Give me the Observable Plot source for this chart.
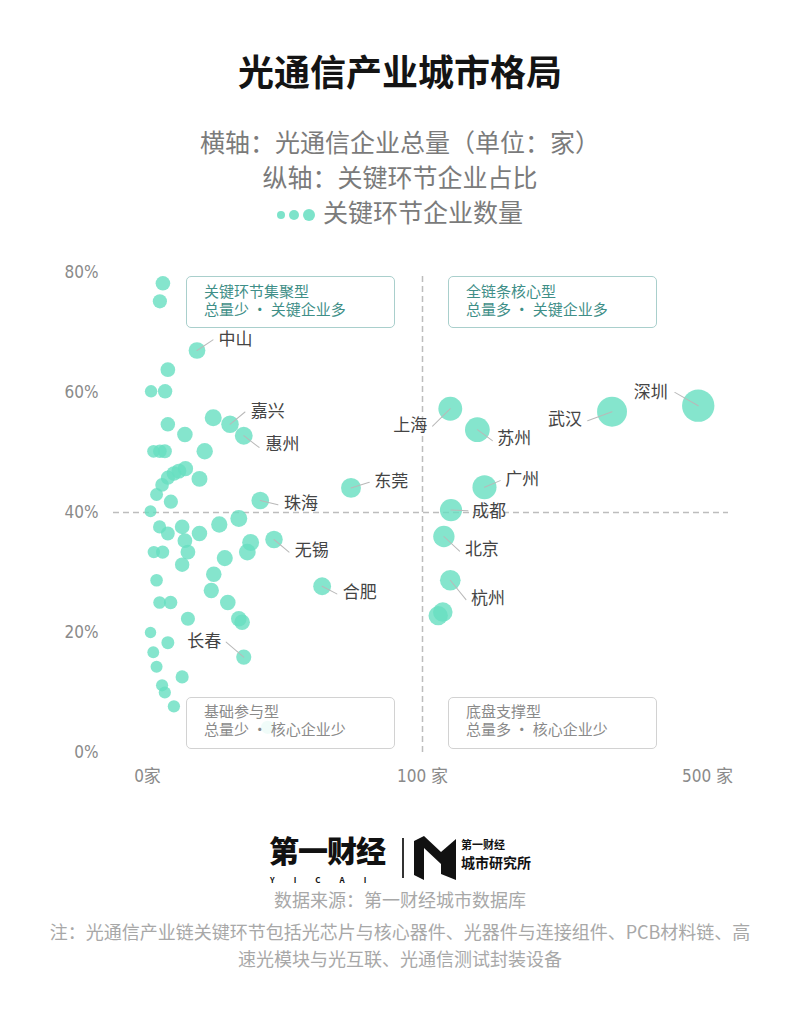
<!DOCTYPE html>
<html><head><meta charset="utf-8">
<script src="https://cdn.jsdelivr.net/npm/d3@7"></script>
<script src="https://cdn.jsdelivr.net/npm/@observablehq/plot@0.6"></script>
<style>
body{margin:0;background:#fff;font-family:"Noto Sans CJK SC","Noto Sans",sans-serif;}
#page{position:relative;width:800px;height:1020px;overflow:hidden;background:#fff;}
.abs{position:absolute;}
.center{left:0;width:800px;text-align:center;}
#title{top:50px;font-size:36px;line-height:40px;font-weight:700;color:#141414;}
.sub{font-size:25px;line-height:35px;color:#7b7b7b;}
.leg{display:inline-block;border-radius:50%;background:#66DEC1;opacity:.85;vertical-align:middle;margin-right:4px;}
#chart{top:250px;left:0;}
.qbox{position:absolute;width:209px;height:52px;box-sizing:border-box;border:1.5px solid;border-radius:5px;background:rgba(255,255,255,0.88);padding:5px 0 0 17px;font-size:15px;line-height:18px;white-space:pre;}
.qtop{border-color:#a9cfcc;color:#3f8f88;}
.qbot{border-color:#d2d2d2;color:#8a8a8a;padding-top:4px;}
.foot{font-size:18px;line-height:27px;color:#a8a8a8;}
</style></head>
<body><div id="page">
<div id="title" class="abs center">光通信产业城市格局</div>
<div class="abs center sub" style="top:124px">横轴：光通信企业总量（单位：家）</div>
<div class="abs center sub" style="top:159px">纵轴：关键环节企业占比</div>
<div class="abs center sub" style="top:194px"><span class="leg" style="width:8px;height:8px"></span><span class="leg" style="width:10px;height:10px"></span><span class="leg" style="width:12px;height:12px;margin-right:8px"></span>关键环节企业数量</div>
<div id="chart" class="abs"></div>
<div id="quads"></div>
<!-- footer logo -->
<div class="abs" style="left:269px;top:834px;font-size:30px;line-height:30px;font-weight:900;color:#111;letter-spacing:-1px;">第一财经</div>
<div class="abs" style="left:270px;top:875px;font-size:8px;line-height:9px;font-weight:700;color:#111;letter-spacing:19px;">YICAI</div>
<div class="abs" style="left:402px;top:838px;width:1.5px;height:40px;background:#333;"></div>
<svg class="abs" style="left:414px;top:836px" width="42" height="44" viewBox="0 0 42 44">
<polygon points="0,5 10,0 10,44 0,39" fill="#111"/>
<polygon points="10,0 27,16 27,28 10,12" fill="#111"/>
<polygon points="27,16 42,3 42,44 27,38" fill="#111"/>
</svg>
<div class="abs" style="left:461px;top:838px;font-size:11px;line-height:13px;font-weight:700;color:#111;">第一财经</div>
<div class="abs" style="left:461px;top:854px;font-size:14px;line-height:17px;font-weight:700;color:#111;">城市研究所</div>
<div class="abs center foot" style="top:886px">数据来源：第一财经城市数据库</div>
<div class="abs center foot" style="top:918px">注：光通信产业链关键环节包括光芯片与核心器件、光器件与连接组件、PCB材料链、高<br>速光模块与光互联、光通信测试封装设备</div>
</div>
<script>
// ---- data ----
// labelled cities first (same order as the value arrays); remaining points are unlabelled cities
const cityNames = ["深圳","武汉","广州","苏州","上海","成都","杭州","北京","","",
  "东莞","合肥","无锡","珠海","惠州","嘉兴","中山","长春"];
const totalCount = [487,366,187,177,139,140,139,130,128.5,122,
  74,63.5,46,41,35,30,18,35,
  5.6,4.5,7.4,1.3,6.4,23.9,7.4,13.6,20.8,2.2,4.5,6.3,13.8,11.4,9.6,7.4,5.3,18.9,3.3,8.5,1.1,4.4,7.4,12.6,18.9,26.1,33.2,13.6,2.3,5.5,14.7,12.6,28.1,37.5,36.3,24.1,23.2,29.2,33.2,34.4,3.3,4.4,8.4,14.7,1.1,7.4,2.1,3.3,12.6,5.3,6.3,9.6,43.7];
const keyShare = [57.8,56.8,44.2,53.8,57.3,40.4,28.7,36.0,23.4,22.8,
  44.1,27.7,35.5,42.0,52.8,54.7,67.0,15.9,
  78.2,75.2,63.8,60.2,60.2,55.8,54.7,53.0,50.2,50.2,50.2,50.2,47.3,46.9,46.5,45.8,44.6,45.6,43.0,41.8,40.2,37.6,36.5,37.6,36.5,38.0,39.0,35.3,33.4,33.4,33.4,31.3,32.4,35.0,33.4,29.7,27.0,25.0,22.3,21.7,28.7,25.0,25.0,22.3,20.0,18.3,16.7,14.3,12.6,11.2,10.0,7.7,4.2];
const keyCount = [281,208,83,95,80,57,40,47,30,28,
  33,18,16,17,18,16,12,6,
  4.4,3.4,4.7,0.8,3.9,13.3,4.0,7.2,10.4,1.1,2.3,3.2,6.5,5.3,4.5,3.4,2.4,8.6,1.4,3.6,0.4,1.7,2.7,4.7,6.9,9.9,12.9,4.8,0.8,1.8,4.9,3.9,9.1,13.1,12.1,7.2,6.3,7.3,7.4,7.5,0.9,1.1,2.1,3.3,0.2,1.4,0.4,0.5,1.6,0.6,0.6,0.7,1.8];
const xTicks = [0,100,500];
const yTicks = [0,20,40,60,80];
const quadTitles = ["关键环节集聚型","全链条核心型","基础参与型","底盘支撑型"];
const quadDescs = ["总量少 · 关键企业多","总量多 · 关键企业多","总量少 · 核心企业少","总量多 · 核心企业少"];

// ---- label placement (pixel offsets from point centre) ----
const labelLayout = {
  "中山":[21.6,-11,"start",16,-10.7],
  "嘉兴":[20.7,-12.3,"start",15,-12.3],
  "惠州":[21.7,9,"start",15.3,11.7],
  "东莞":[23.3,-6.6,"start",18.3,-5.6],
  "珠海":[23.7,2.7,"start",17.7,4.3],
  "无锡":[20.7,11,"start",15,12.7],
  "合肥":[20.7,6.6,"start",14.7,7.6],
  "长春":[-22.6,-15.7,"end",-17.6,-15],
  "上海":[-23,16.7,"end",-17.7,17.4],
  "苏州":[20,9.3,"start",15,11],
  "武汉":[-30,8,"end",-24.4,9],
  "深圳":[-30.4,-13.3,"end",-23.4,-13.3],
  "广州":[20.7,-7.7,"start",15.7,-6.7],
  "成都":[21,1.7,"start",17,0.7],
  "北京":[21,13.3,"start",15.7,14.7],
  "杭州":[20.7,18.3,"start",15.7,19.3]
};

const data = totalCount.map((t,i)=>({city:cityNames[i] || "",total:t,share:keyShare[i],key:keyCount[i]}));

const dash = {stroke:"#bdbdbd",strokeWidth:1.5,strokeDasharray:"6,4"};
const labelMarks = [];
for (const d of data) {
  if (!d.city) continue;
  const [tdx,tdy,anchor,lx,ly] = labelLayout[d.city];
  const len = Math.hypot(lx,ly);
  const ang = Math.atan2(lx,-ly)*180/Math.PI;
  labelMarks.push(Plot.vector([d],{x:"total",y:"share",length:len,rotate:ang,anchor:"start",stroke:"#b9b9b9",strokeWidth:1,r:0}));
  labelMarks.push(Plot.text([d],{x:"total",y:"share",text:"city",dx:tdx,dy:tdy,textAnchor:anchor,fill:"#444",fontSize:17,fontFamily:"Noto Sans CJK SC"}));
}

const chart = Plot.plot({
  width:800, height:560,
  marginTop:22, marginBottom:58, marginLeft:113, marginRight:72,
  style:{fontFamily:'"Liberation Sans Narrow","DejaVu Sans Condensed","Noto Sans CJK SC",sans-serif',fontSize:"17px",color:"#8a8a8a",background:"transparent",overflow:"visible"},
  x:{type:"linear",domain:[0,100,500],range:[147,422,707],ticks:xTicks,tickFormat:d=>d===0?"0家":d+" 家",tickSize:0,tickPadding:17,label:null},
  y:{domain:[0,80],ticks:yTicks,tickFormat:d=>d+"%",tickSize:0,tickPadding:15,label:null},
  r:{type:"pow",exponent:0.38,domain:[0,290],range:[5,16.3]},
  marks:[
    Plot.ruleY([40],dash),
    Plot.ruleX([100],{y1:0,y2:80,...dash}),
    Plot.dot(data,{x:"total",y:"share",r:"key",fill:"#66DEC1",fillOpacity:0.8}),
    ...labelMarks
  ]
});
document.getElementById("chart").appendChild(chart);

// quadrant annotation boxes
const qpos = [[186,276,"qtop"],[448,276,"qtop"],[186,697,"qbot"],[448,697,"qbot"]];
const qwrap = document.getElementById("quads");
quadTitles.forEach((t,i)=>{
  const el = document.createElement("div");
  el.className = "qbox " + qpos[i][2];
  el.style.left = qpos[i][0]+"px"; el.style.top = qpos[i][1]+"px";
  el.textContent = t + "\n" + quadDescs[i];
  qwrap.appendChild(el);
});
</script>
</body></html>
